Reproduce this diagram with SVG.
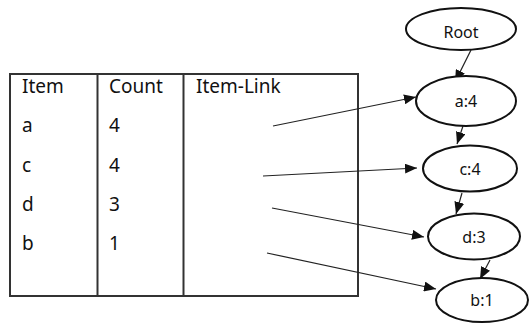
<svg xmlns="http://www.w3.org/2000/svg" width="530" height="324" viewBox="0 0 530 324">
<style>
.t{font-family:"Noto Sans","Liberation Sans",sans-serif;font-size:19px;fill:#111}
.n{font-family:"Noto Sans","Liberation Sans",sans-serif;font-size:16px;fill:#111;text-anchor:middle}
.e{fill:#fff;stroke:#111;stroke-width:2}
.b{fill:none;stroke:#333;stroke-width:2}
.c{stroke:#222;stroke-width:1.2;fill:none;marker-end:url(#ah)}
</style>
<defs>
<marker id="ah" viewBox="0 0 12 10" refX="12" refY="5" markerWidth="12" markerHeight="10" markerUnits="userSpaceOnUse" orient="auto">
<path d="M0,0 L12,5 L0,10 Z" fill="#111"/>
</marker>
</defs>
<rect width="530" height="324" fill="#fff"/>
<g id="table">
<rect class="b" x="10" y="74" width="348" height="222"/>
<line class="b" x1="97.5" y1="74" x2="97.5" y2="296"/>
<line class="b" x1="183.5" y1="74" x2="183.5" y2="296"/>
<text class="t" x="22" y="93">Item</text>
<text class="t" x="109" y="93">Count</text>
<text class="t" x="196" y="93">Item-Link</text>
<text class="t" x="22" y="132">a</text>
<text class="t" x="109" y="132">4</text>
<text class="t" x="22" y="172">c</text>
<text class="t" x="109" y="172">4</text>
<text class="t" x="22" y="211">d</text>
<text class="t" x="109" y="211">3</text>
<text class="t" x="22" y="250">b</text>
<text class="t" x="109" y="250">1</text>
</g>
<g id="connectors">
<line class="c" x1="273" y1="126" x2="416" y2="97"/>
<line class="c" x1="263" y1="176" x2="417" y2="168"/>
<line class="c" x1="272" y1="208" x2="424" y2="237"/>
<line class="c" x1="267" y1="253" x2="436" y2="289"/>
<line class="c" x1="471" y1="50" x2="455" y2="82"/>
<line class="c" x1="463" y1="126" x2="457" y2="144"/>
<line class="c" x1="462" y1="193" x2="456" y2="214"/>
<line class="c" x1="490" y1="260" x2="480" y2="279"/>
</g>
<g id="root"><ellipse class="e" cx="461" cy="29" rx="55" ry="21"/><text class="n" x="461" y="38">Root</text></g>
<g id="a4"><ellipse class="e" cx="466" cy="101" rx="50" ry="25"/><text class="n" x="466" y="106.5">a:4</text></g>
<g id="c4"><ellipse class="e" cx="470" cy="168.5" rx="47" ry="23"/><text class="n" x="470" y="175">c:4</text></g>
<g id="d3"><ellipse class="e" cx="474" cy="236.5" rx="46" ry="23"/><text class="n" x="474" y="242.5">d:3</text></g>
<g id="b1"><ellipse class="e" cx="482" cy="300" rx="46" ry="22"/><text class="n" x="482" y="306">b:1</text></g>
</svg>
